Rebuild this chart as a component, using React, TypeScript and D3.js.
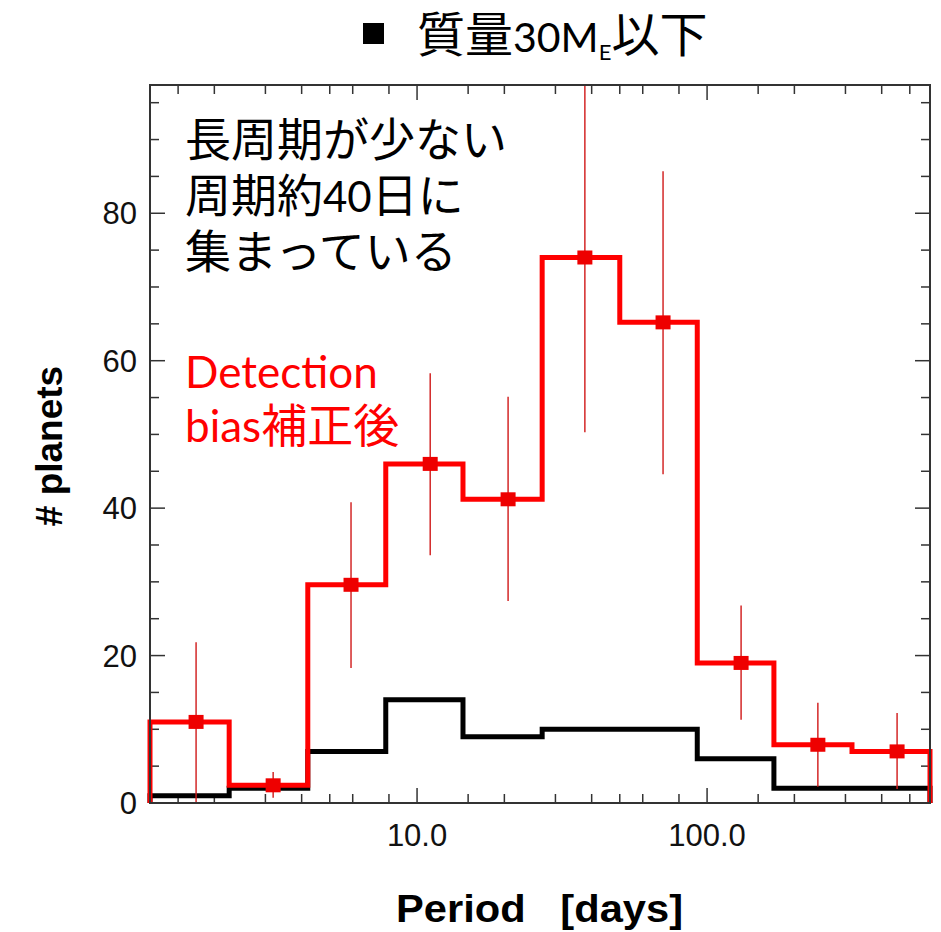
import React from "react";
import * as d3 from "d3";

// Orbital-period bins (days), log spaced
const binEdges = [1.2, 2.25, 4.2, 7.8, 14.4, 27, 50, 92.5, 170, 316, 587];
// Observed counts, planets with mass below 30 Earth masses
const observedCounts = [1, 2, 7, 14, 9, 10, 10, 6, 2, 2];
// Counts after detection-bias correction
const correctedCounts = [11, 2.4, 29.6, 46, 41.2, 74, 65.2, 19, 7.9, 7];
// Representative period of each corrected point
const pointPeriods = [1.73, 3.19, 5.92, 11.1, 20.6, 37.9, 70.5, 131, 241, 452];
// Error bar extents of corrected counts
const errLow = [0, 0.7, 18.3, 33.6, 27.4, 50.3, 44.6, 11.3, 2.2, 1.9];
const errHigh = [21.8, 4.2, 40.8, 58.3, 55.1, 110, 85.7, 26.8, 13.6, 12.2];

const xMajorTicks = [10, 100];
const xMinorTicks = [1.5, 2, 3, 4, 5, 6, 8, 15, 20, 30, 40, 50, 60, 80, 150, 200, 300, 400, 500];
const yTicks = d3.range(0, 96, 5);
const yLabelStep = 20;

const W = 941;
const H = 932;
const plot = { left: 150, right: 930, top: 85, bottom: 803 };

const LATIN = "Lato, 'Noto Sans CJK JP', sans-serif";
const CJK = "'Noto Sans CJK JP', sans-serif";
const AXIS = "'Liberation Sans', Arial, Helvetica, sans-serif";

export default function App() {
  const x = d3.scaleLog().domain([binEdges[0], binEdges[binEdges.length - 1]]).range([plot.left, plot.right]);
  const y = d3.scaleLinear().domain([0, 97.4]).range([plot.bottom, plot.top]);

  const stepPoints = (vals: number[]): [number, number][] => {
    const pts: [number, number][] = [[x(binEdges[0]), y(0)]];
    vals.forEach((v, i) => {
      pts.push([x(binEdges[i]), y(v)]);
      pts.push([x(binEdges[i + 1]), y(v)]);
    });
    pts.push([x(binEdges[binEdges.length - 1]), y(0)]);
    return pts;
  };
  const line = d3.line();

  const frameColor = "#333";

  return (
    <svg
      width={W}
      height={H}
      style={{ position: "absolute", left: 0, top: 0, background: "#fff" }}
    >
      <defs>
        <clipPath id="plotClip">
          <rect x={plot.left} y={plot.top} width={plot.right - plot.left} height={plot.bottom - plot.top} />
        </clipPath>
      </defs>

      {/* title */}
      <rect x={363} y={23} width={21} height={21} fill="#000" />
      <text x={417} y={52} fill="#000" fontFamily={LATIN}>
        <tspan fontSize={48}>質量</tspan>
        <tspan fontSize={41}>30M</tspan>
        <tspan fontSize={22} dy={8}>E</tspan>
        <tspan fontSize={48} dy={-8}>以下</tspan>
      </text>

      {/* x ticks, bottom and top */}
      {xMinorTicks.map((t) => (
        <g key={"xm" + t} stroke={frameColor} strokeWidth={1.5}>
          <line x1={x(t)} x2={x(t)} y1={plot.bottom} y2={plot.bottom - 9} />
          <line x1={x(t)} x2={x(t)} y1={plot.top} y2={plot.top + 9} />
        </g>
      ))}
      {xMajorTicks.map((t) => (
        <g key={"xM" + t}>
          <line x1={x(t)} x2={x(t)} y1={plot.bottom} y2={plot.bottom - 15} stroke={frameColor} strokeWidth={1.5} />
          <line x1={x(t)} x2={x(t)} y1={plot.top} y2={plot.top + 15} stroke={frameColor} strokeWidth={1.5} />
          <text x={x(t)} y={846} textAnchor="middle" fontFamily={AXIS} fontSize={31} fill="#111">
            {t.toFixed(1)}
          </text>
        </g>
      ))}

      {/* y ticks, left and right */}
      {yTicks.map((t) => {
        const major = t % yLabelStep === 0;
        const len = major ? 15 : 9;
        return (
          <g key={"y" + t}>
            <line x1={plot.left} x2={plot.left + len} y1={y(t)} y2={y(t)} stroke={frameColor} strokeWidth={1.5} />
            <line x1={plot.right} x2={plot.right - len} y1={y(t)} y2={y(t)} stroke={frameColor} strokeWidth={1.5} />
            {major && (
              <text x={137} y={y(t)} dy="0.36em" textAnchor="end" fontFamily={AXIS} fontSize={31} fill="#111">
                {t}
              </text>
            )}
          </g>
        );
      })}

      {/* histograms */}
      <path d={line(stepPoints(observedCounts)) || ""} fill="none" stroke="#000" strokeWidth={5} strokeLinejoin="miter" />
      <path d={line(stepPoints(correctedCounts)) || ""} fill="none" stroke="#ff0000" strokeWidth={5} strokeLinejoin="miter" />

      {/* error bars */}
      <g clipPath="url(#plotClip)">
        {pointPeriods.map((p, i) => (
          <line
            key={"e" + i}
            x1={x(p)}
            x2={x(p)}
            y1={y(errLow[i])}
            y2={y(errHigh[i])}
            stroke="#d01818"
            strokeWidth={1.4}
          />
        ))}
      </g>

      {/* corrected points */}
      {pointPeriods.map((p, i) => (
        <rect
          key={"p" + i}
          x={x(p) - 7.5}
          y={y(correctedCounts[i]) - 7}
          width={15}
          height={14}
          fill="#ee0000"
        />
      ))}

      {/* frame */}
      <rect
        x={plot.left}
        y={plot.top}
        width={plot.right - plot.left}
        height={plot.bottom - plot.top}
        fill="none"
        stroke={frameColor}
        strokeWidth={2}
      />

      {/* annotations */}
      <text x={185} y={156} fontSize={46} fill="#000" fontFamily={LATIN}>長周期が少ない</text>
      <text x={185} y={212} fontSize={46} fill="#000" fontFamily={LATIN}>
        <tspan>周期約</tspan>
        <tspan fontSize={42}>40</tspan>
        <tspan>日に</tspan>
      </text>
      <text x={185} y={268} fontSize={46} fill="#000" fontFamily={LATIN}>集まっている</text>

      <text x={185} y={388} fill="#ff0000" fontFamily={LATIN} fontSize={44}>Detection</text>
      <text x={185} y={442} fill="#ff0000" fontFamily={LATIN} fontSize={44}>
        <tspan>bias</tspan>
        <tspan fontSize={46}>補正後</tspan>
      </text>

      {/* axis titles */}
      <text
        transform={`translate(62, 446) rotate(-90)`}
        textAnchor="middle"
        fontFamily={AXIS}
        fontWeight="bold"
        fontSize={37}
        fill="#000"
      >
        # planets
      </text>
      <text
        x={396}
        y={922}
        fontFamily={AXIS}
        fontWeight="bold"
        fontSize={38}
        fill="#000"
        textLength={287}
        lengthAdjust="spacingAndGlyphs"
        style={{ whiteSpace: "pre" }}
      >
        {"Period   [days]"}
      </text>
    </svg>
  );
}
